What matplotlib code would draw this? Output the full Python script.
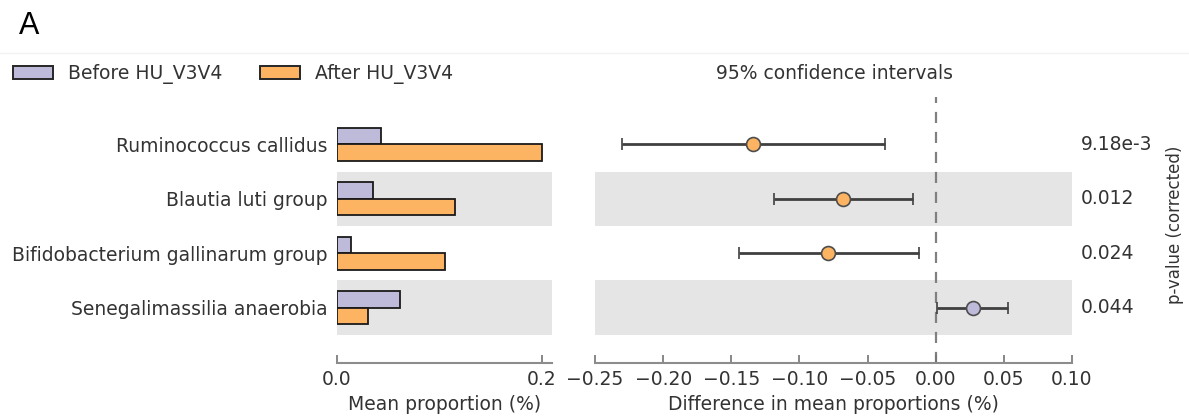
import matplotlib.pyplot as plt
from matplotlib.patches import Patch

species = ['Ruminococcus callidus', 'Blautia luti group',
           'Bifidobacterium gallinarum group', 'Senegalimassilia anaerobia']
before = [0.043, 0.035, 0.014, 0.062]
after = [0.200, 0.115, 0.105, 0.030]
diff = [-0.134, -0.068, -0.079, 0.027]
ci_low = [-0.230, -0.119, -0.144, 0.001]
ci_high = [-0.037, -0.017, -0.012, 0.053]
pvals = ['9.18e-3', '0.012', '0.024', '0.044']
diff_ticks = [-0.25, -0.20, -0.15, -0.10, -0.05, 0.00, 0.05, 0.10]
prop_ticks = [0.0, 0.2]

C_BEFORE = '#bebada'
C_AFTER = '#fdb462'
BAND = '#e5e5e5'
TXT = '0.2'
FS = 13.5

plt.rcParams['font.family'] = 'DejaVu Sans'
fig = plt.figure(figsize=(11.89, 4.16), dpi=100)
W, H = 1189, 416


def axes_px(x0, x1, y0, y1):
    return fig.add_axes([x0 / W, 1 - y1 / H, (x1 - x0) / W, (y1 - y0) / H])


ax1 = axes_px(337, 552, 97, 362.7)
ax2 = axes_px(595, 1072, 97, 362.7)
rows = list(range(len(species)))
ylim = (4.01, -0.87)

# left: mean proportions
for i in rows:
    if i % 2 == 1:
        ax1.axhspan(i - 0.5, i + 0.5, color=BAND, lw=0, zorder=0)
ax1.barh([r - 0.15 for r in rows], before, height=0.3, color=C_BEFORE, edgecolor='0.1', lw=1.3, zorder=2)
ax1.barh([r + 0.15 for r in rows], after, height=0.3, color=C_AFTER, edgecolor='0.1', lw=1.3, zorder=2)
ax1.set_xlim(0, 0.21)
ax1.set_ylim(*ylim)
ax1.set_yticks(rows, species, fontsize=FS, color=TXT)
ax1.tick_params(axis='y', length=0, pad=7)
ax1.set_xticks(prop_ticks, [f'{t:.1f}' for t in prop_ticks])
ax1.set_xlabel('Mean proportion (%)', fontsize=FS, color=TXT)

# right: difference with 95% CI
for i in rows:
    if i % 2 == 1:
        ax2.axhspan(i - 0.5, i + 0.5, color=BAND, lw=0, zorder=0)
ax2.axvline(0, color='0.5', ls=(0, (5, 4)), lw=1.6, zorder=1)
pv_trans = ax2.get_yaxis_transform().__class__(fig.transFigure, ax2.transData)
for i in rows:
    col = C_AFTER if diff[i] < 0 else C_BEFORE
    ax2.errorbar(diff[i], i, xerr=[[diff[i] - ci_low[i]], [ci_high[i] - diff[i]]],
                 fmt='o', color='0.25', ecolor='0.25', elinewidth=2, capsize=4.5, capthick=2,
                 markerfacecolor=col, markeredgecolor='0.3', markeredgewidth=1.2,
                 markersize=10, zorder=3)
    ax2.text(1081 / W, i, pvals[i], transform=pv_trans, va='center', ha='left', fontsize=FS, color=TXT)
ax2.set_xlim(-0.25, 0.10)
ax2.set_ylim(*ylim)
ax2.set_yticks([])
ax2.set_xticks(diff_ticks, [f'{t:.2f}'.replace('-', '\u2212') for t in diff_ticks])
ax2.set_xlabel('Difference in mean proportions (%)', fontsize=FS, color=TXT)

for ax in (ax1, ax2):
    ax.set_facecolor('white')
    for s in ('top', 'right', 'left'):
        ax.spines[s].set_visible(False)
    ax.spines['bottom'].set_color('0.55')
    ax.spines['bottom'].set_linewidth(1.5)
    ax.tick_params(axis='x', direction='in', length=6, width=1.2, color='0.45', labelsize=FS,
                   labelcolor=TXT, pad=5)
    ax.xaxis.set_label_coords(0.5, (362.7 - 405) / (362.7 - 97))
    ax.xaxis.label.set_va('center')

fig.text(1175 / W, 1 - 225 / H, 'p-value (corrected)', rotation=90, ha='center', va='center',
         fontsize=12, color=TXT)
fig.text(834 / W, 1 - 73.5 / H, '95% confidence intervals', ha='center', va='center', fontsize=FS, color=TXT)
fig.text(19 / W, 1 - 26 / H, 'A', ha='left', va='center', fontsize=22, family='Liberation Sans')
fig.add_artist(plt.Line2D([0, 1], [1 - 53 / H] * 2, color='0.95', lw=1, transform=fig.transFigure))

handles = [Patch(facecolor=C_BEFORE, edgecolor='0.15', lw=1.4),
           Patch(facecolor=C_AFTER, edgecolor='0.15', lw=1.4)]
fig.legend(handles, ['Before HU_V3V4', 'After HU_V3V4'], ncol=2, loc='center left',
           bbox_to_anchor=(13 / W, 1 - 74 / H), frameon=False, fontsize=FS, handlelength=2.13,
           handleheight=0.7, handletextpad=0.8, columnspacing=2.0, borderpad=0, borderaxespad=0,
           labelcolor=TXT)

fig.savefig('out.png', dpi=100)
